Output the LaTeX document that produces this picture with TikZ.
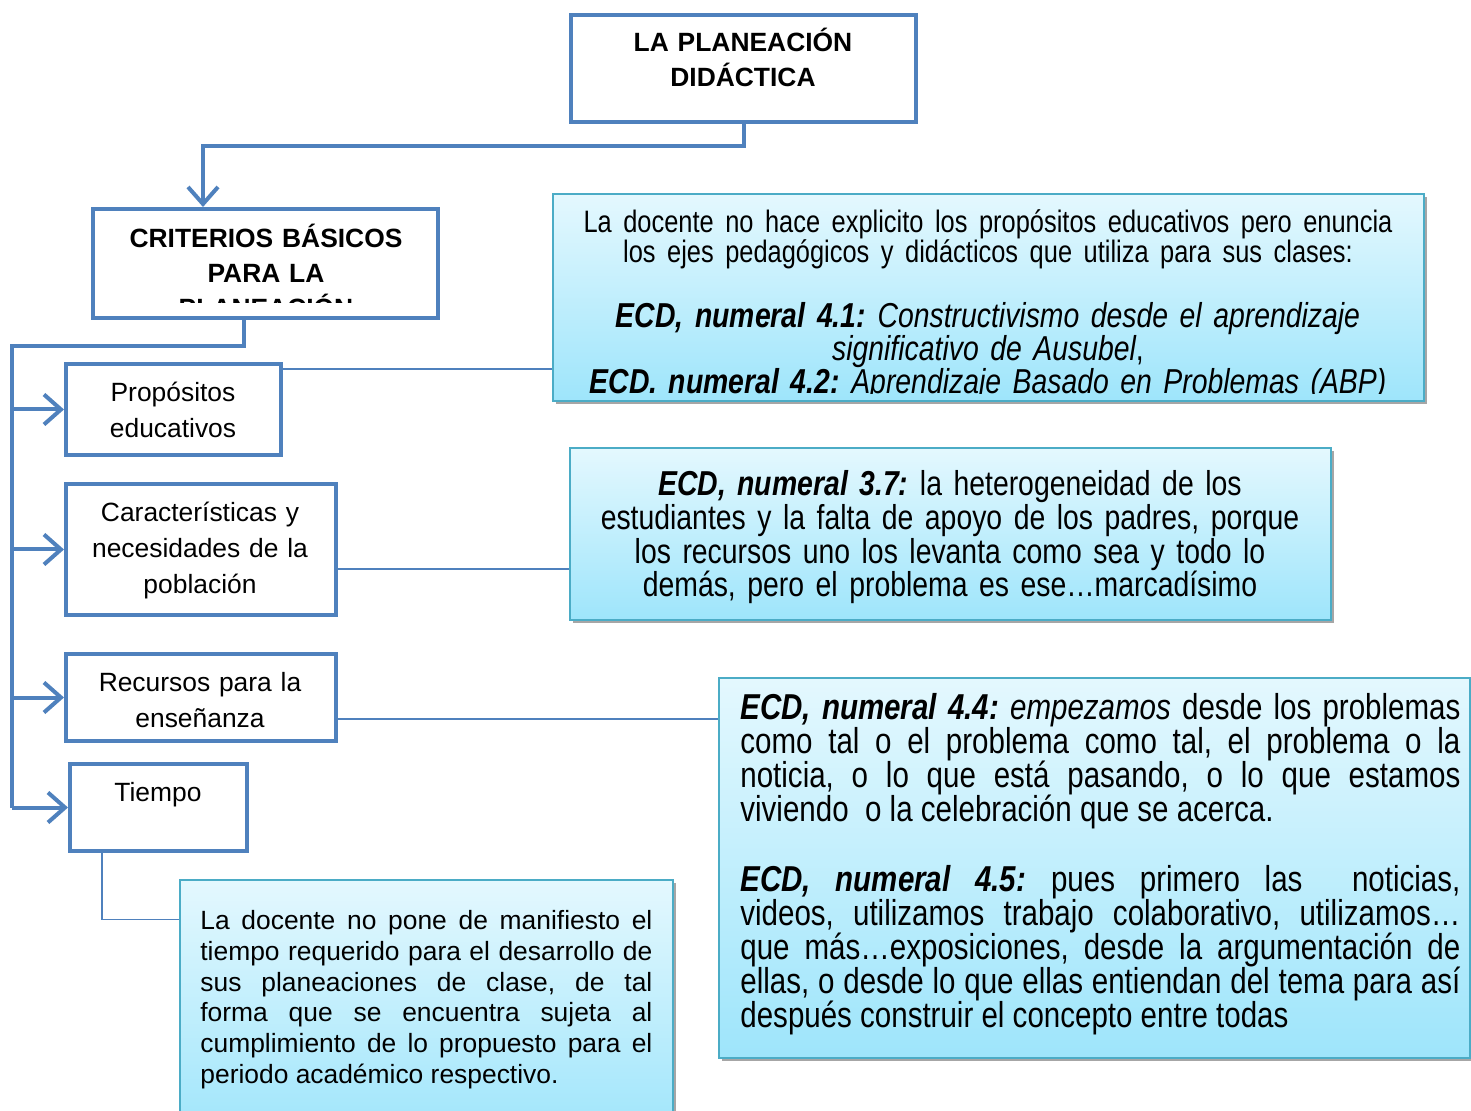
\documentclass[tikz,border=0pt]{standalone}
\usepackage{fontspec}
\setmainfont{Liberation Sans}
\newfontfamily\narrowsf[FakeStretch=0.82]{Liberation Sans}
\usetikzlibrary{arrows.meta,positioning,fit,shadows}
\lineskiplimit=-30pt

\definecolor{lineblue}{RGB}{79,129,189}
\definecolor{notaedge}{RGB}{75,172,198}
\definecolor{notatop}{RGB}{228,248,254}
\definecolor{notabottom}{RGB}{158,229,251}

\tikzset{
  bluebox/.style={draw=lineblue,line width=2pt,fill=white,inner sep=0pt},
  notabox/.style={draw=notaedge,line width=0.7pt,inner sep=0pt,top color=notatop,bottom color=notabottom,
    drop shadow={shadow xshift=1.6pt,shadow yshift=-1.6pt,fill=black,opacity=0.35}},
  headtext/.style={font=\bfseries\fontsize{13.2}{17.5}\selectfont,text width=170pt,align=center,anchor=base,inner sep=0pt},
  itemtext/.style={font=\fontsize{13.2}{18}\selectfont,text width=130pt,align=center,anchor=base,inner sep=0pt},
  notatext/.style={font=\narrowsf\fontsize{17.3}{16.8}\selectfont,align=center,anchor=base,inner sep=0pt},
  trunk/.style={lineblue,line width=2pt},
  branch/.style={trunk,-{Straight Barb[length=8.5pt,width=15pt]}},
  link/.style={lineblue,line width=0.75pt},
}

\begin{document}
\frenchspacing
\begin{tikzpicture}[x=0.5pt,y=-0.5pt]
  \useasboundingbox (0,0) rectangle (1471,1111);
  \fill[white] (0,0) rectangle (1471,1111);
  \clip (0,0) rectangle (1471,1111);

  % main boxes
  \node[bluebox,fit={(571,15) (916,122)}] (plan) {};
  \node[bluebox,fit={(93,209) (438,318)}] (criterios) {};
  \node[bluebox,fit={(66,364) (281,455)}] (propositos) {};
  \node[bluebox,fit={(66,484) (336,615)}] (caracteristicas) {};
  \node[bluebox,fit={(66,654) (336,741)}] (recursos) {};
  \node[bluebox,fit={(70,764) (247,851)}] (tiempo) {};

  \node[headtext] (plantxt) at (743,51.5) {LA PLANEACIÓN\\DIDÁCTICA};
  \begin{scope}
    \clip (93,209) rectangle (438,303);
    \node[headtext] (criteriostxt) at (266,247.5) {CRITERIOS BÁSICOS\\PARA LA\\PLANEACIÓN};
  \end{scope}
  \node[itemtext] (propositostxt) at (173,401.5) {Propósitos\\educativos};
  \node[itemtext] (caracteristicastxt) at (200,521.5) {Características y\\necesidades de la\\población};
  \node[itemtext] (recursostxt) at (200,691.5) {Recursos para la\\enseñanza};
  \node[itemtext] (tiempotxt) at (158,801.5) {Tiempo};

  % notes
  \node[notabox,fit={(553,194) (1424,401)}] (notaprop) {};
  \node[notabox,fit={(570,448) (1331,620)}] (notacarac) {};
  \node[notabox,fit={(719,678) (1470,1058)}] (notarec) {};
  \node[notabox,fit={(180,880) (673,1140)}] (notatiempo) {};

  \begin{scope}
    \clip (553,194) rectangle (1424,394);
    \node[notatext,text width=440pt] (notapropstxt) at (988,232.5)
      {{\fontsize{15.5}{15}\selectfont La docente no hace explicito los propósitos educativos pero enuncia\\los ejes pedagógicos y didácticos que utiliza para sus clases:\par}
       \vspace{16pt}
       {\fontsize{17.3}{16.5}\selectfont\textbf{\textit{ECD, numeral 4.1:}} \textit{Constructivismo desde el aprendizaje\\significativo de Ausubel},\\\textbf{\textit{ECD. numeral 4.2:}} \textit{Aprendizaje Basado en Problemas (ABP)}\par}};
  \end{scope}
  \node[notatext,text width=400pt] (notacarctxt) at (950,496)
    {\textbf{\textit{ECD, numeral 3.7:}} la heterogeneidad de los\\estudiantes y la falta de apoyo de los padres, porque\\los recursos uno los levanta como sea y todo lo\\demás, pero el problema es ese…marcadísimo};
  \node[notatext,font=\narrowsf\fontsize{18}{17}\selectfont,text width=360pt,align=justify,anchor=base west] (notarectxt) at (740,719)
    {\textbf{\textit{ECD, numeral 4.4:}} \textit{empezamos} desde los problemas\linebreak como tal o el problema como tal, el problema o la\linebreak noticia, o lo que está pasando, o lo que estamos\linebreak viviendo\ \ o la celebración que se acerca.\par
     \vspace{18pt}
     \textbf{\textit{ECD, numeral 4.5:}} pues primero las\ \ noticias,\linebreak videos, utilizamos trabajo colaborativo, utilizamos…\linebreak que más…exposiciones, desde la argumentación de\linebreak ellas, o desde lo que ellas entiendan del tema para así\linebreak después construir el concepto entre todas};
  \node[font=\fontsize{13.2}{15.4}\selectfont,text width=226pt,align=justify,anchor=base west,inner sep=0pt] (notatiempotxt) at (200,929.5)
    {La docente no pone de manifiesto el\linebreak tiempo requerido para el desarrollo de\linebreak sus planeaciones de clase, de tal\linebreak forma que se encuentra sujeta al\linebreak cumplimiento de lo propuesto para el\linebreak periodo académico respectivo.};

  % connectors
  \draw[branch] (plan.south) -- ++(0,22) -| ([xshift=56pt]criterios.north west);
  \coordinate (spine) at (12,346);
  \draw[trunk] ([xshift=76.5pt]criterios.south west) |- (spine) -- (spine |- tiempo.west);
  \foreach \b in {propositos,caracteristicas,recursos,tiempo}
    \draw[branch] (spine |- \b.west) -- (\b.west);

  \draw[link] ([yshift=-3.5pt]propositos.north east) -- ([yshift=-3.5pt]propositos.north east -| notaprop.west);
  \draw[link] ([yshift=-9.75pt]caracteristicas.east) -- ([yshift=-9.75pt]caracteristicas.east -| notacarac.west);
  \draw[link] ([yshift=-10.75pt]recursos.east) -- ([yshift=-10.75pt]recursos.east -| notarec.west);
  \draw[link] ([xshift=17pt]tiempo.south west) |- ([yshift=-20pt]notatiempo.north west);
\end{tikzpicture}
\end{document}
